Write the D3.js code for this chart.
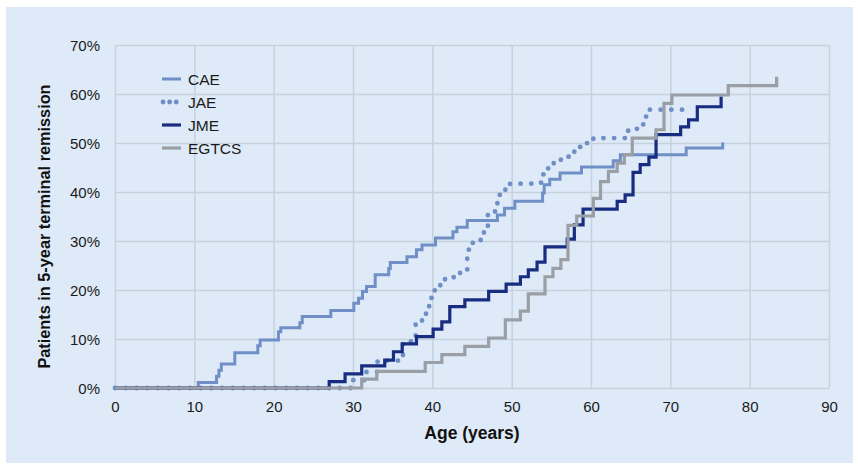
<!DOCTYPE html>
<html><head><meta charset="utf-8">
<script src="https://cdn.jsdelivr.net/npm/d3@7"></script>
<style>body{margin:0;background:#fff;}svg{display:block;}</style>
</head><body>
<svg id="chart" width="858" height="466"></svg>
<script>
const seriesNames = ["CAE", "JAE", "JME", "EGTCS"];
const ageTicks = [0,10,20,30,40,50,60,70,80,90];
const pctTicks = [0,10,20,30,40,50,60,70];

const caeAge = [0,10.5,12.8,13.1,13.4,15.1,18.0,18.3,20.6,20.9,23.3,23.6,27.2,30.1,30.7,31.2,31.7,32.8,34.5,34.7,36.8,38.0,38.7,40.4,42.6,43.1,44.4,48.2,49.1,50.4,53.9,54.1,54.8,56.1,58.8,62.8,63.7,72.0,76.6];
const caePct = [0,1.1,2.4,3.6,4.9,7.2,8.6,9.8,11.5,12.3,13.3,14.6,15.8,17.3,18.3,19.7,20.7,23.1,24.4,25.6,26.8,28.2,29.2,30.6,31.9,32.8,34.2,35.3,36.7,38.1,39.8,41.5,42.6,43.9,45.1,46.4,47.6,49.0,50.1];

const jaeAge = [0,30.0,31.7,33.1,36.3,37.9,38.7,39.2,39.6,39.9,40.3,41.0,41.6,43.5,44.4,44.6,45.1,46.5,47.0,47.9,48.2,48.5,49.2,49.8,53.7,54.0,54.6,55.3,56.2,57.9,58.6,59.5,60.3,64.3,65.3,66.1,66.6,67.0,72.0];
const jaePct = [0,1.6,3.3,5.6,9.5,13.0,14.1,15.4,17.0,18.8,20.3,21.4,22.6,24.1,26.8,28.7,30.2,32.1,35.3,36.2,37.9,39.6,40.8,41.7,42.8,44.7,45.4,46.4,47.2,48.3,49.2,50.0,51.0,52.5,52.9,53.8,55.4,56.8,56.8];

const jmeAge = [0,27.0,29.0,31.1,34.0,35.1,36.2,38.0,40.1,41.2,42.2,44.1,47.1,49.3,51.1,52.1,53.2,54.2,57.0,57.9,59.0,63.3,64.3,65.3,66.2,67.3,68.2,71.3,72.3,73.4,76.4];
const jmePct = [0,1.3,2.9,4.5,5.7,7.4,9.0,10.5,12.0,13.5,16.6,18.0,19.7,21.2,22.7,24.1,25.7,28.8,30.4,33.3,36.5,38.1,39.4,44.0,45.6,47.1,51.7,53.3,54.7,57.4,59.5];

const egtcsAge = [0,31.1,33.0,39.1,41.2,44.1,47.1,49.2,51.1,52.1,54.2,55.2,56.2,57.1,58.2,60.3,61.2,62.2,63.3,64.2,65.2,68.2,69.2,70.2,77.3,83.4];
const egtcsPct = [0,1.8,3.4,5.2,6.8,8.5,10.2,13.9,15.7,19.2,22.7,24.4,26.2,33.2,35.1,38.7,42.1,44.2,45.9,47.6,51.0,52.7,58.1,59.8,61.7,63.5];

const series = [
  {name: "CAE", ages: caeAge, pcts: caePct, color: "#6f8fc6", dash: null, width: 3},
  {name: "JAE", ages: jaeAge, pcts: jaePct, color: "#6f8fc6", dash: "0.1 10.6", width: 4.8},
  {name: "JME", ages: jmeAge, pcts: jmePct, color: "#182c82", dash: null, width: 3.2},
  {name: "EGTCS", ages: egtcsAge, pcts: egtcsPct, color: "#9a9ea5", dash: null, width: 3.2}
];

const svg = d3.select("#chart");
const font = "'Liberation Sans', Arial, sans-serif";

svg.append("rect").attr("x", 6).attr("y", 7).attr("width", 847).attr("height", 456)
  .attr("fill", "#deeaf7");

const m = {left: 115, right: 829, top: 45, bottom: 388};
const x = d3.scaleLinear().domain([0, 90]).range([m.left, m.right]);
const y = d3.scaleLinear().domain([0, 70]).range([m.bottom, m.top]);

// grid
const gx = svg.append("g").attr("transform", `translate(0,${m.bottom})`)
  .call(d3.axisBottom(x).tickValues(ageTicks).tickSize(-(m.bottom - m.top)).tickPadding(13).tickFormat(d3.format("d")));
const gy = svg.append("g").attr("transform", `translate(${m.left},0)`)
  .call(d3.axisLeft(y).tickValues(pctTicks).tickSize(-(m.right - m.left)).tickPadding(15).tickFormat(d => d + "%"));
[gx, gy].forEach(g => {
  g.select(".domain").remove();
  g.selectAll(".tick line").attr("stroke", "#c6d1dd").attr("stroke-width", 1.5);
  g.selectAll(".tick text").attr("fill", "#1a1a1a").style("font-family", font).style("font-size", "15px");
});
gy.selectAll(".tick text").attr("dy", "0.35em");

const line = d3.line().x((d) => x(d[0])).y((d) => y(d[1])).curve(d3.curveStepAfter);

series.forEach(s => {
  const pts = s.ages.map((a, i) => [a, s.pcts[i]]);
  const p = svg.append("path").attr("d", line(pts)).attr("fill", "none")
    .attr("stroke", s.color).attr("stroke-width", s.width);
  if (s.dash) p.attr("stroke-dasharray", s.dash).attr("stroke-linecap", "round");
  else p.attr("stroke-linejoin", "miter").attr("stroke-linecap", "butt");
});

// legend
const lg = svg.append("g");
series.forEach((s, i) => {
  const ly = 79 + i * 23;
  const l = lg.append("line").attr("x1", 162).attr("x2", 181).attr("y1", ly).attr("y2", ly)
    .attr("stroke", s.color).attr("stroke-width", s.width);
  if (s.dash) l.attr("stroke-dasharray", "0.1 6.5").attr("stroke-linecap", "round").attr("x1", 163);
  lg.append("text").attr("x", 188).attr("y", ly).attr("dy", "0.36em")
    .style("font-family", font).style("font-size", "15.5px").attr("fill", "#1a1a1a").text(s.name);
});

// axis titles
svg.append("text").attr("x", (m.left + m.right) / 2).attr("y", 439).attr("text-anchor", "middle")
  .style("font-family", font).style("font-size", "17.5px").style("font-weight", "bold").attr("fill", "#111")
  .text("Age (years)");
svg.append("text").attr("transform", `translate(50,${(m.top + m.bottom) / 2 + 10}) rotate(-90)`)
  .attr("text-anchor", "middle")
  .style("font-family", font).style("font-size", "16.3px").style("font-weight", "bold").attr("fill", "#111")
  .text("Patients in 5-year terminal remission");
</script>
</body></html>
